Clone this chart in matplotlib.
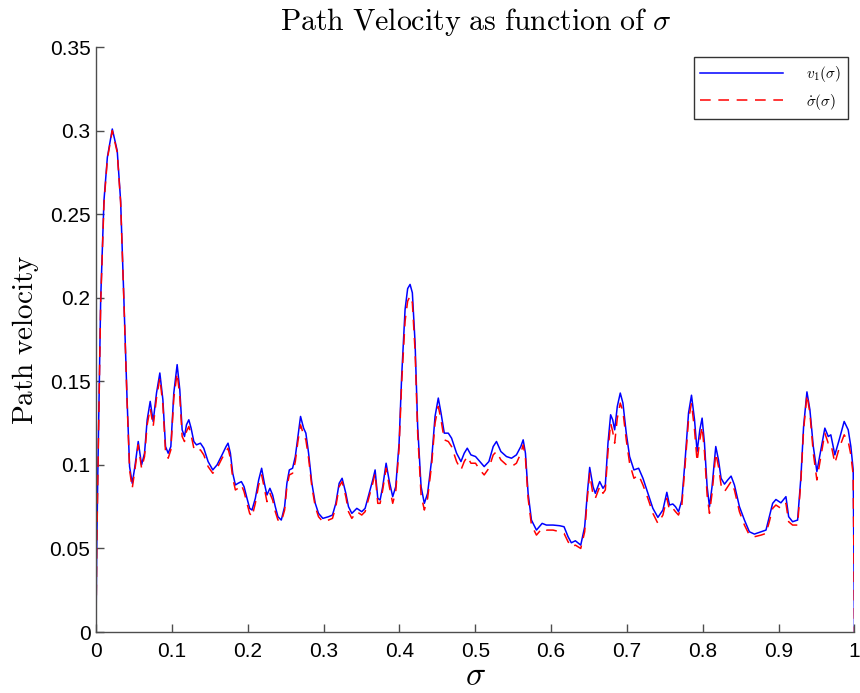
import numpy as np
import matplotlib
matplotlib.use("Agg")
import matplotlib.pyplot as plt

# === Datos: velocidad de trayectoria vs sigma ===
sigma = [
    0.000, 0.001, 0.0025, 0.0062, 0.0105, 0.015, 0.0215, 0.028, 0.0325, 0.0368,
    0.041, 0.0443, 0.0478, 0.0513, 0.0557, 0.0601, 0.064, 0.0675, 0.0715, 0.0754,
    0.0798, 0.0842, 0.0882, 0.0917, 0.0952, 0.0987, 0.1026, 0.107, 0.1105, 0.1136,
    0.1167, 0.1193, 0.1224, 0.1254, 0.129, 0.1325, 0.1377, 0.1421, 0.1478, 0.154,
    0.1596, 0.1662, 0.1715, 0.1741, 0.1772, 0.1803, 0.1838, 0.1873, 0.1917, 0.1952,
    0.1991, 0.2026, 0.2057, 0.2101, 0.2145, 0.2184, 0.222, 0.2254, 0.2293, 0.2329,
    0.2364, 0.2399, 0.2443, 0.2487, 0.2517, 0.2549, 0.2592, 0.2628, 0.2662, 0.2697,
    0.2737, 0.2767, 0.2803, 0.2846, 0.2891, 0.2934, 0.2991, 0.3066, 0.3118, 0.3162,
    0.3206, 0.3245, 0.3294, 0.3329, 0.3373, 0.3439, 0.3504, 0.3548, 0.3601, 0.3649,
    0.368, 0.3715, 0.3746, 0.378, 0.3825, 0.3868, 0.3912, 0.3952, 0.3996, 0.403,
    0.4075, 0.4109, 0.4141, 0.4171, 0.4207, 0.4241, 0.4286, 0.4329, 0.4372, 0.4425,
    0.447, 0.4513, 0.4549, 0.4592, 0.4645, 0.4688, 0.4754, 0.4812, 0.4855, 0.4895,
    0.4943, 0.5004, 0.5061, 0.5118, 0.518, 0.5237, 0.528, 0.5338, 0.5412, 0.5478,
    0.5543, 0.5601, 0.5632, 0.5662, 0.5697, 0.5741, 0.5807, 0.5882, 0.5938, 0.6026,
    0.6114, 0.6171, 0.6224, 0.6267, 0.632, 0.6391, 0.6443, 0.6478, 0.6509, 0.6553,
    0.6583, 0.6641, 0.6684, 0.6715, 0.675, 0.6785, 0.6812, 0.6838, 0.6873, 0.6912,
    0.6947, 0.6991, 0.7035, 0.7092, 0.7154, 0.7211, 0.7276, 0.7342, 0.7408, 0.7474,
    0.7526, 0.7561, 0.7605, 0.764, 0.768, 0.7724, 0.7767, 0.7812, 0.7851, 0.7891,
    0.7925, 0.7961, 0.7991, 0.8022, 0.8057, 0.8088, 0.8122, 0.8171, 0.8207, 0.8241,
    0.8286, 0.8329, 0.8373, 0.8417, 0.8483, 0.8549, 0.8614, 0.868, 0.8768, 0.8833,
    0.8877, 0.8921, 0.8964, 0.903, 0.9096, 0.9132, 0.9184, 0.925, 0.9294, 0.9329,
    0.9373, 0.9412, 0.9457, 0.9504, 0.9557, 0.9609, 0.9654, 0.9688, 0.9741, 0.9798,
    0.9864, 0.9917, 0.9952, 0.9983, 1.0,
]

v1 = [
    0.000, 0.050, 0.097, 0.199, 0.258, 0.284, 0.301, 0.288, 0.258, 0.199,
    0.139, 0.099, 0.089, 0.099, 0.114, 0.100, 0.107, 0.127, 0.138, 0.126,
    0.143, 0.155, 0.139, 0.111, 0.107, 0.111, 0.143, 0.160, 0.145, 0.121,
    0.117, 0.124, 0.127, 0.122, 0.114, 0.112, 0.113, 0.110, 0.102, 0.097,
    0.100, 0.106, 0.111, 0.113, 0.107, 0.095, 0.088, 0.089, 0.090, 0.087,
    0.080, 0.074, 0.073, 0.080, 0.091, 0.098, 0.089, 0.082, 0.086, 0.082,
    0.075, 0.069, 0.067, 0.075, 0.089, 0.097, 0.098, 0.105, 0.117, 0.129,
    0.122, 0.119, 0.107, 0.089, 0.077, 0.071, 0.068, 0.069, 0.070, 0.077,
    0.089, 0.092, 0.083, 0.075, 0.071, 0.074, 0.072, 0.074, 0.083, 0.091,
    0.097, 0.080, 0.079, 0.087, 0.101, 0.090, 0.081, 0.087, 0.113, 0.153,
    0.193, 0.2055, 0.208, 0.203, 0.173, 0.123, 0.087, 0.077, 0.083, 0.103,
    0.129, 0.140, 0.131, 0.119, 0.119, 0.116, 0.107, 0.102, 0.107, 0.110,
    0.106, 0.105, 0.102, 0.099, 0.102, 0.111, 0.114, 0.108, 0.105, 0.104,
    0.106, 0.111, 0.115, 0.107, 0.083, 0.067, 0.061, 0.065, 0.064, 0.064,
    0.0636, 0.063, 0.057, 0.0534, 0.0546, 0.052, 0.063, 0.083, 0.0985, 0.087,
    0.083, 0.090, 0.086, 0.088, 0.113, 0.130, 0.127, 0.121, 0.135, 0.143,
    0.137, 0.119, 0.105, 0.097, 0.098, 0.092, 0.083, 0.074, 0.0686, 0.073,
    0.0836, 0.076, 0.0766, 0.075, 0.072, 0.079, 0.103, 0.131, 0.1417, 0.127,
    0.108, 0.121, 0.128, 0.113, 0.087, 0.075, 0.087, 0.111, 0.103, 0.092,
    0.0885, 0.091, 0.0933, 0.088, 0.075, 0.067, 0.060, 0.0586, 0.060, 0.061,
    0.069, 0.077, 0.0793, 0.0773, 0.081, 0.069, 0.066, 0.067, 0.093, 0.123,
    0.1437, 0.133, 0.111, 0.096, 0.109, 0.122, 0.117, 0.118, 0.106, 0.115,
    0.126, 0.121, 0.111, 0.097, 0.000,
]

sigma_dot = [
    0.000, 0.048, 0.094, 0.197, 0.256, 0.283, 0.300, 0.287, 0.257, 0.198,
    0.138, 0.097, 0.086, 0.097, 0.112, 0.098, 0.105, 0.124, 0.134, 0.123,
    0.140, 0.152, 0.136, 0.108, 0.104, 0.109, 0.140, 0.155, 0.141, 0.117,
    0.114, 0.120, 0.123, 0.118, 0.110, 0.108, 0.109, 0.106, 0.099, 0.095,
    0.098, 0.104, 0.108, 0.110, 0.104, 0.092, 0.085, 0.086, 0.088, 0.084,
    0.077, 0.071, 0.069, 0.077, 0.088, 0.094, 0.086, 0.078, 0.083, 0.079,
    0.072, 0.067, 0.066, 0.073, 0.087, 0.094, 0.095, 0.102, 0.114, 0.124,
    0.118, 0.115, 0.104, 0.087, 0.075, 0.069, 0.066, 0.067, 0.068, 0.075,
    0.087, 0.090, 0.081, 0.072, 0.068, 0.072, 0.070, 0.072, 0.081, 0.089,
    0.095, 0.077, 0.077, 0.085, 0.098, 0.087, 0.077, 0.084, 0.110, 0.149,
    0.186, 0.198, 0.201, 0.197, 0.168, 0.119, 0.082, 0.073, 0.080, 0.100,
    0.125, 0.135, 0.127, 0.115, 0.114, 0.111, 0.102, 0.097, 0.102, 0.105,
    0.101, 0.101, 0.097, 0.094, 0.098, 0.106, 0.108, 0.103, 0.100, 0.099,
    0.101, 0.107, 0.112, 0.104, 0.080, 0.064, 0.058, 0.062, 0.061, 0.061,
    0.060, 0.059, 0.054, 0.051, 0.052, 0.050, 0.060, 0.080, 0.095, 0.082,
    0.080, 0.087, 0.083, 0.085, 0.108, 0.125, 0.120, 0.113, 0.128, 0.137,
    0.132, 0.115, 0.101, 0.092, 0.094, 0.088, 0.080, 0.071, 0.065, 0.070,
    0.080, 0.073, 0.074, 0.072, 0.070, 0.076, 0.100, 0.127, 0.137, 0.121,
    0.102, 0.115, 0.123, 0.108, 0.082, 0.071, 0.083, 0.107, 0.099, 0.088,
    0.084, 0.087, 0.090, 0.085, 0.072, 0.064, 0.058, 0.057, 0.058, 0.059,
    0.066, 0.074, 0.076, 0.074, 0.077, 0.066, 0.064, 0.064, 0.091, 0.121,
    0.142, 0.131, 0.107, 0.091, 0.105, 0.119, 0.113, 0.113, 0.101, 0.110,
    0.118, 0.114, 0.106, 0.094, 0.000,
]

x_ticks = [0, 0.1, 0.2, 0.3, 0.4, 0.5, 0.6, 0.7, 0.8, 0.9, 1]
x_labels = ["0", "0.1", "0.2", "0.3", "0.4", "0.5", "0.6", "0.7", "0.8", "0.9", "1"]
y_ticks = [0, 0.05, 0.1, 0.15, 0.2, 0.25, 0.3, 0.35]
y_labels = ["0", "0.05", "0.1", "0.15", "0.2", "0.25", "0.3", "0.35"]

# === Estilo ===
plt.rcParams["mathtext.fontset"] = "cm"
plt.rcParams["font.family"] = "Liberation Sans"

fig = plt.figure(figsize=(8.6, 6.93), dpi=100)
ax = fig.add_axes([0.1116, 0.088, 0.882, 0.844])

ax.plot(sigma, v1, color="#0000ff", linewidth=1.1, label=r"$v_1(\sigma)$")
ax.plot(sigma, sigma_dot, color="#ff0000", linewidth=1.1, linestyle=(0, (7, 5)),
        label=r"$\dot{\sigma}(\sigma)$")

ax.set_xlim(0, 1)
ax.set_ylim(0, 0.35)
ax.set_xticks(x_ticks)
ax.set_xticklabels(x_labels)
ax.set_yticks(y_ticks)
ax.set_yticklabels(y_labels)
ax.tick_params(direction="in", length=6, width=1, colors="#4d4d4d",
               labelsize=15, labelcolor="black")
ax.tick_params(axis="x", pad=7)
ax.tick_params(axis="y", pad=4)

for side in ["top", "right"]:
    ax.spines[side].set_visible(False)
for side in ["left", "bottom"]:
    ax.spines[side].set_color("#4d4d4d")
    ax.spines[side].set_linewidth(1.0)

ax.set_title(r"$\mathrm{Path\ Velocity\ as\ function\ of\ }\sigma$", fontsize=21.5, pad=12)
ax.set_ylabel(r"$\mathrm{Path\ velocity}$", fontsize=21, labelpad=6)
ax.set_xlabel(r"$\sigma$", fontsize=24, labelpad=0)

leg = ax.legend(loc="upper right", bbox_to_anchor=(0.995, 0.988), fontsize=11,
                frameon=True, fancybox=False, edgecolor="black",
                handlelength=5.4, handletextpad=1.5, borderpad=0.45,
                labelspacing=0.5, borderaxespad=0.2)
leg.get_frame().set_linewidth(1.0)

fig.savefig("out.png", dpi=100, facecolor="white")
